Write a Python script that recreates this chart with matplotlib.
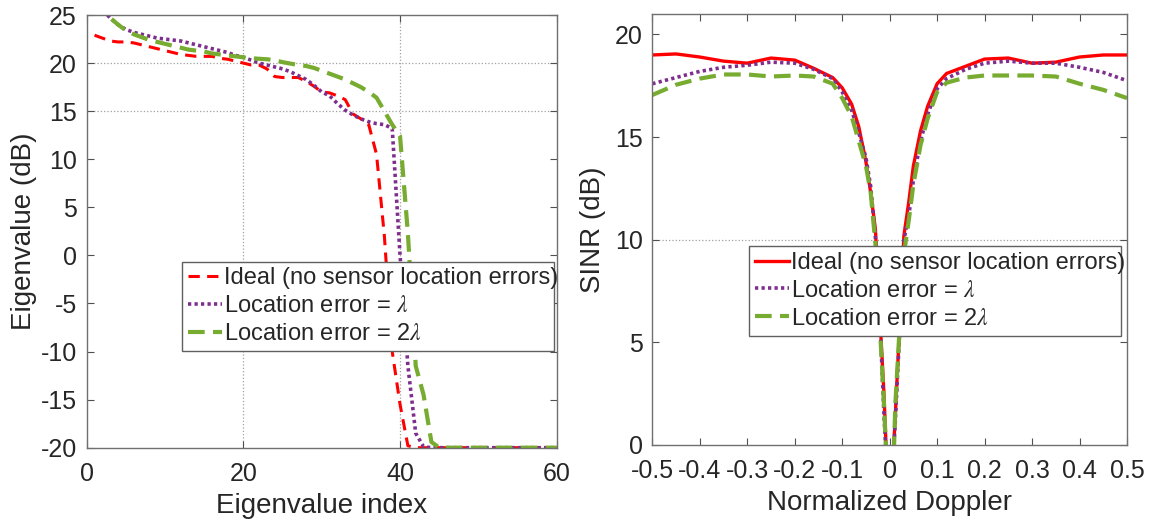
import numpy as np
import matplotlib
matplotlib.use("Agg")
import matplotlib.pyplot as plt

plt.rcParams['font.family'] = ['Liberation Sans', 'DejaVu Sans']
plt.rcParams['mathtext.fontset'] = 'stix'
plt.rcParams['axes.unicode_minus'] = False

# ---- left panel: eigenvalue spectrum ----
eig_index = list(range(1, 61))
eig_ideal = [22.9, 22.6, 22.3, 22.2, 22.2, 22.1, 21.9, 21.7, 21.5, 21.3,
             21.1, 20.9, 20.8, 20.7, 20.7, 20.7, 20.5, 20.4, 20.2, 20.0,
             19.8, 19.8, 19.4, 18.6, 18.5, 18.5, 18.5, 18.1, 17.6, 17.0,
             16.9, 16.6, 16.2, 14.7, 14.2, 13.6, 10.5, 2.0, -10.0, -15.5,
             -19.8] + [-20.0] * 19
eig_err1 = [26.5, 25.5, 24.7, 24.0, 23.5, 23.2, 23.0, 22.8, 22.6, 22.5,
            22.4, 22.3, 22.1, 21.9, 21.7, 21.5, 21.3, 21.1, 20.8, 20.6,
            20.3, 20.0, 19.8, 19.6, 19.4, 19.1, 18.7, 18.3, 17.7, 17.0,
            16.6, 15.8, 15.1, 14.6, 14.2, 13.9, 13.7, 13.6, 13.2, 0.0,
            -11.5, -18.5, -19.9] + [-20.0] * 17
eig_err2 = [27.0, 25.8, 24.7, 24.0, 23.4, 23.0, 22.7, 22.4, 22.2, 22.0,
            21.8, 21.6, 21.4, 21.3, 21.2, 21.0, 20.9, 20.8, 20.7, 20.6,
            20.5, 20.45, 20.4, 20.3, 20.1, 19.95, 19.8, 19.7, 19.5, 19.2,
            18.9, 18.6, 18.3, 17.9, 17.5, 17.0, 16.4, 15.0, 13.6, 12.4,
            2.3, -11.5, -14.5, -19.4] + [-20.0] * 16

# ---- right panel: SINR vs normalized Doppler ----
doppler = [-0.5, -0.45, -0.4, -0.35, -0.3, -0.25, -0.2, -0.16, -0.12, -0.1,
           -0.08, -0.065, -0.05, -0.04, -0.03, -0.02, -0.012, -0.008, 0.0,
           0.008, 0.012, 0.02, 0.03, 0.04, 0.05, 0.065, 0.08, 0.1, 0.12,
           0.16, 0.2, 0.25, 0.3, 0.35, 0.4, 0.45, 0.5]
sinr_ideal = [19.0, 19.05, 18.9, 18.7, 18.6, 18.85, 18.75, 18.35, 17.9, 17.4,
              16.6, 15.5, 13.8, 12.3, 10.5, 6.0, 2.5, 0.2, -15.0,
              -0.3, 1.5, 5.3, 10.2, 11.8, 13.6, 15.3, 16.5, 17.6, 18.1,
              18.45, 18.8, 18.85, 18.6, 18.65, 18.9, 19.0, 19.0]
sinr_err1 = [17.6, 17.9, 18.2, 18.4, 18.5, 18.65, 18.6, 18.3, 17.85, 17.2,
             16.3, 15.2, 14.0, 12.6, 10.1, 5.8, 1.5, -0.3, -15.0,
             -0.5, 1.2, 5.0, 10.0, 11.1, 12.9, 14.8, 16.1, 17.35, 17.85,
             18.3, 18.6, 18.7, 18.6, 18.6, 18.4, 18.15, 17.75]
sinr_err2 = [17.05, 17.55, 17.85, 18.05, 18.05, 17.95, 18.0, 17.95, 17.6, 16.9,
             16.0, 14.8, 13.6, 12.3, 9.8, 5.5, 2.0, 0.0, -15.0,
             -1.0, 2.0, 5.3, 9.3, 10.9, 12.7, 14.6, 15.9, 17.2, 17.65,
             17.9, 18.0, 18.0, 18.0, 17.95, 17.6, 17.3, 16.9]

labels = ['Ideal (no sensor location errors)',
          r'Location error = $\lambda$',
          r'Location error = 2$\lambda$']
red = '#ff0000'
purple = '#7e2f8e'
green = '#77ac30'
text_col = '#262626'

fig = plt.figure(figsize=(11.56, 5.27), dpi=100)
ax1 = fig.add_axes([0.0750, 0.1505, 0.4066, 0.8210])
ax2 = fig.add_axes([0.5643, 0.1556, 0.4106, 0.8180])


def style_axes(ax, keep_x, keep_y):
    ax.tick_params(direction='in', top=True, right=True, length=5,
                   labelsize=18, colors='#505050', labelcolor=text_col)
    ax.tick_params(axis='x', pad=10)
    ax.tick_params(axis='y', pad=7)
    for s in ax.spines.values():
        s.set_color('#707070')
        s.set_linewidth(1.0)
    ax.grid(True, color='#a0a0a0', linestyle=':', linewidth=0.9)
    for loc, gl in zip(ax.get_xticks(), ax.xaxis.get_gridlines()):
        gl.set_visible(any(abs(loc - k) < 1e-9 for k in keep_x))
    for loc, gl in zip(ax.get_yticks(), ax.yaxis.get_gridlines()):
        gl.set_visible(any(abs(loc - k) < 1e-9 for k in keep_y))


def add_legend(ax, box):
    leg = ax.legend(loc='lower left', bbox_to_anchor=box, mode='expand',
                    fontsize=17, frameon=True, fancybox=False,
                    handlelength=1.45, handletextpad=0.1, borderpad=0.25,
                    labelspacing=0.25, borderaxespad=0)
    leg.get_frame().set_edgecolor('#606060')
    leg.get_frame().set_linewidth(1.0)
    leg.get_frame().set_alpha(1)
    for t in leg.get_texts():
        t.set_color(text_col)
    return leg


# left
ax1.plot(eig_index, eig_ideal, color=red, lw=2.2, dashes=(3.7, 2.4), label=labels[0])
ax1.plot(eig_index, eig_err1, color=purple, lw=2.6, dashes=(0.9, 0.9), label=labels[1])
ax1.plot(eig_index, eig_err2, color=green, lw=3.0, dashes=(4.0, 2.0), label=labels[2])
ax1.set_xlim(0, 60)
ax1.set_ylim(-20, 25)
ax1.set_xticks([0, 20, 40, 60])
ax1.set_yticks(np.arange(-20, 26, 5))
style_axes(ax1, [20, 40], [15, 20])
ax1.set_xlabel('Eigenvalue index', fontsize=20, color=text_col, labelpad=5)
ax1.set_ylabel('Eigenvalue (dB)', fontsize=20, color=text_col, labelpad=3)
add_legend(ax1, (0.202, 0.223, 0.793, 0.212))

# right
ax2.plot(doppler, sinr_ideal, color=red, lw=2.4, label=labels[0])
ax2.plot(doppler, sinr_err1, color=purple, lw=2.6, dashes=(0.9, 0.9), label=labels[1])
ax2.plot(doppler, sinr_err2, color=green, lw=3.0, dashes=(4.0, 2.0), label=labels[2])
ax2.set_xlim(-0.5, 0.5)
ax2.set_ylim(0, 21)
ax2.set_xticks(np.round(np.arange(-0.5, 0.51, 0.1), 1))
ax2.set_xticklabels(['-0.5', '-0.4', '-0.3', '-0.2', '-0.1', '0',
                     '0.1', '0.2', '0.3', '0.4', '0.5'])
ax2.set_yticks([0, 5, 10, 15, 20])
style_axes(ax2, [], [10])
ax2.set_xlabel('Normalized Doppler', fontsize=20, color=text_col, labelpad=5)
ax2.set_ylabel('SINR (dB)', fontsize=20, color=text_col, labelpad=6)
add_legend(ax2, (0.203, 0.254, 0.785, 0.21))

fig.savefig('out.png', dpi=100)
